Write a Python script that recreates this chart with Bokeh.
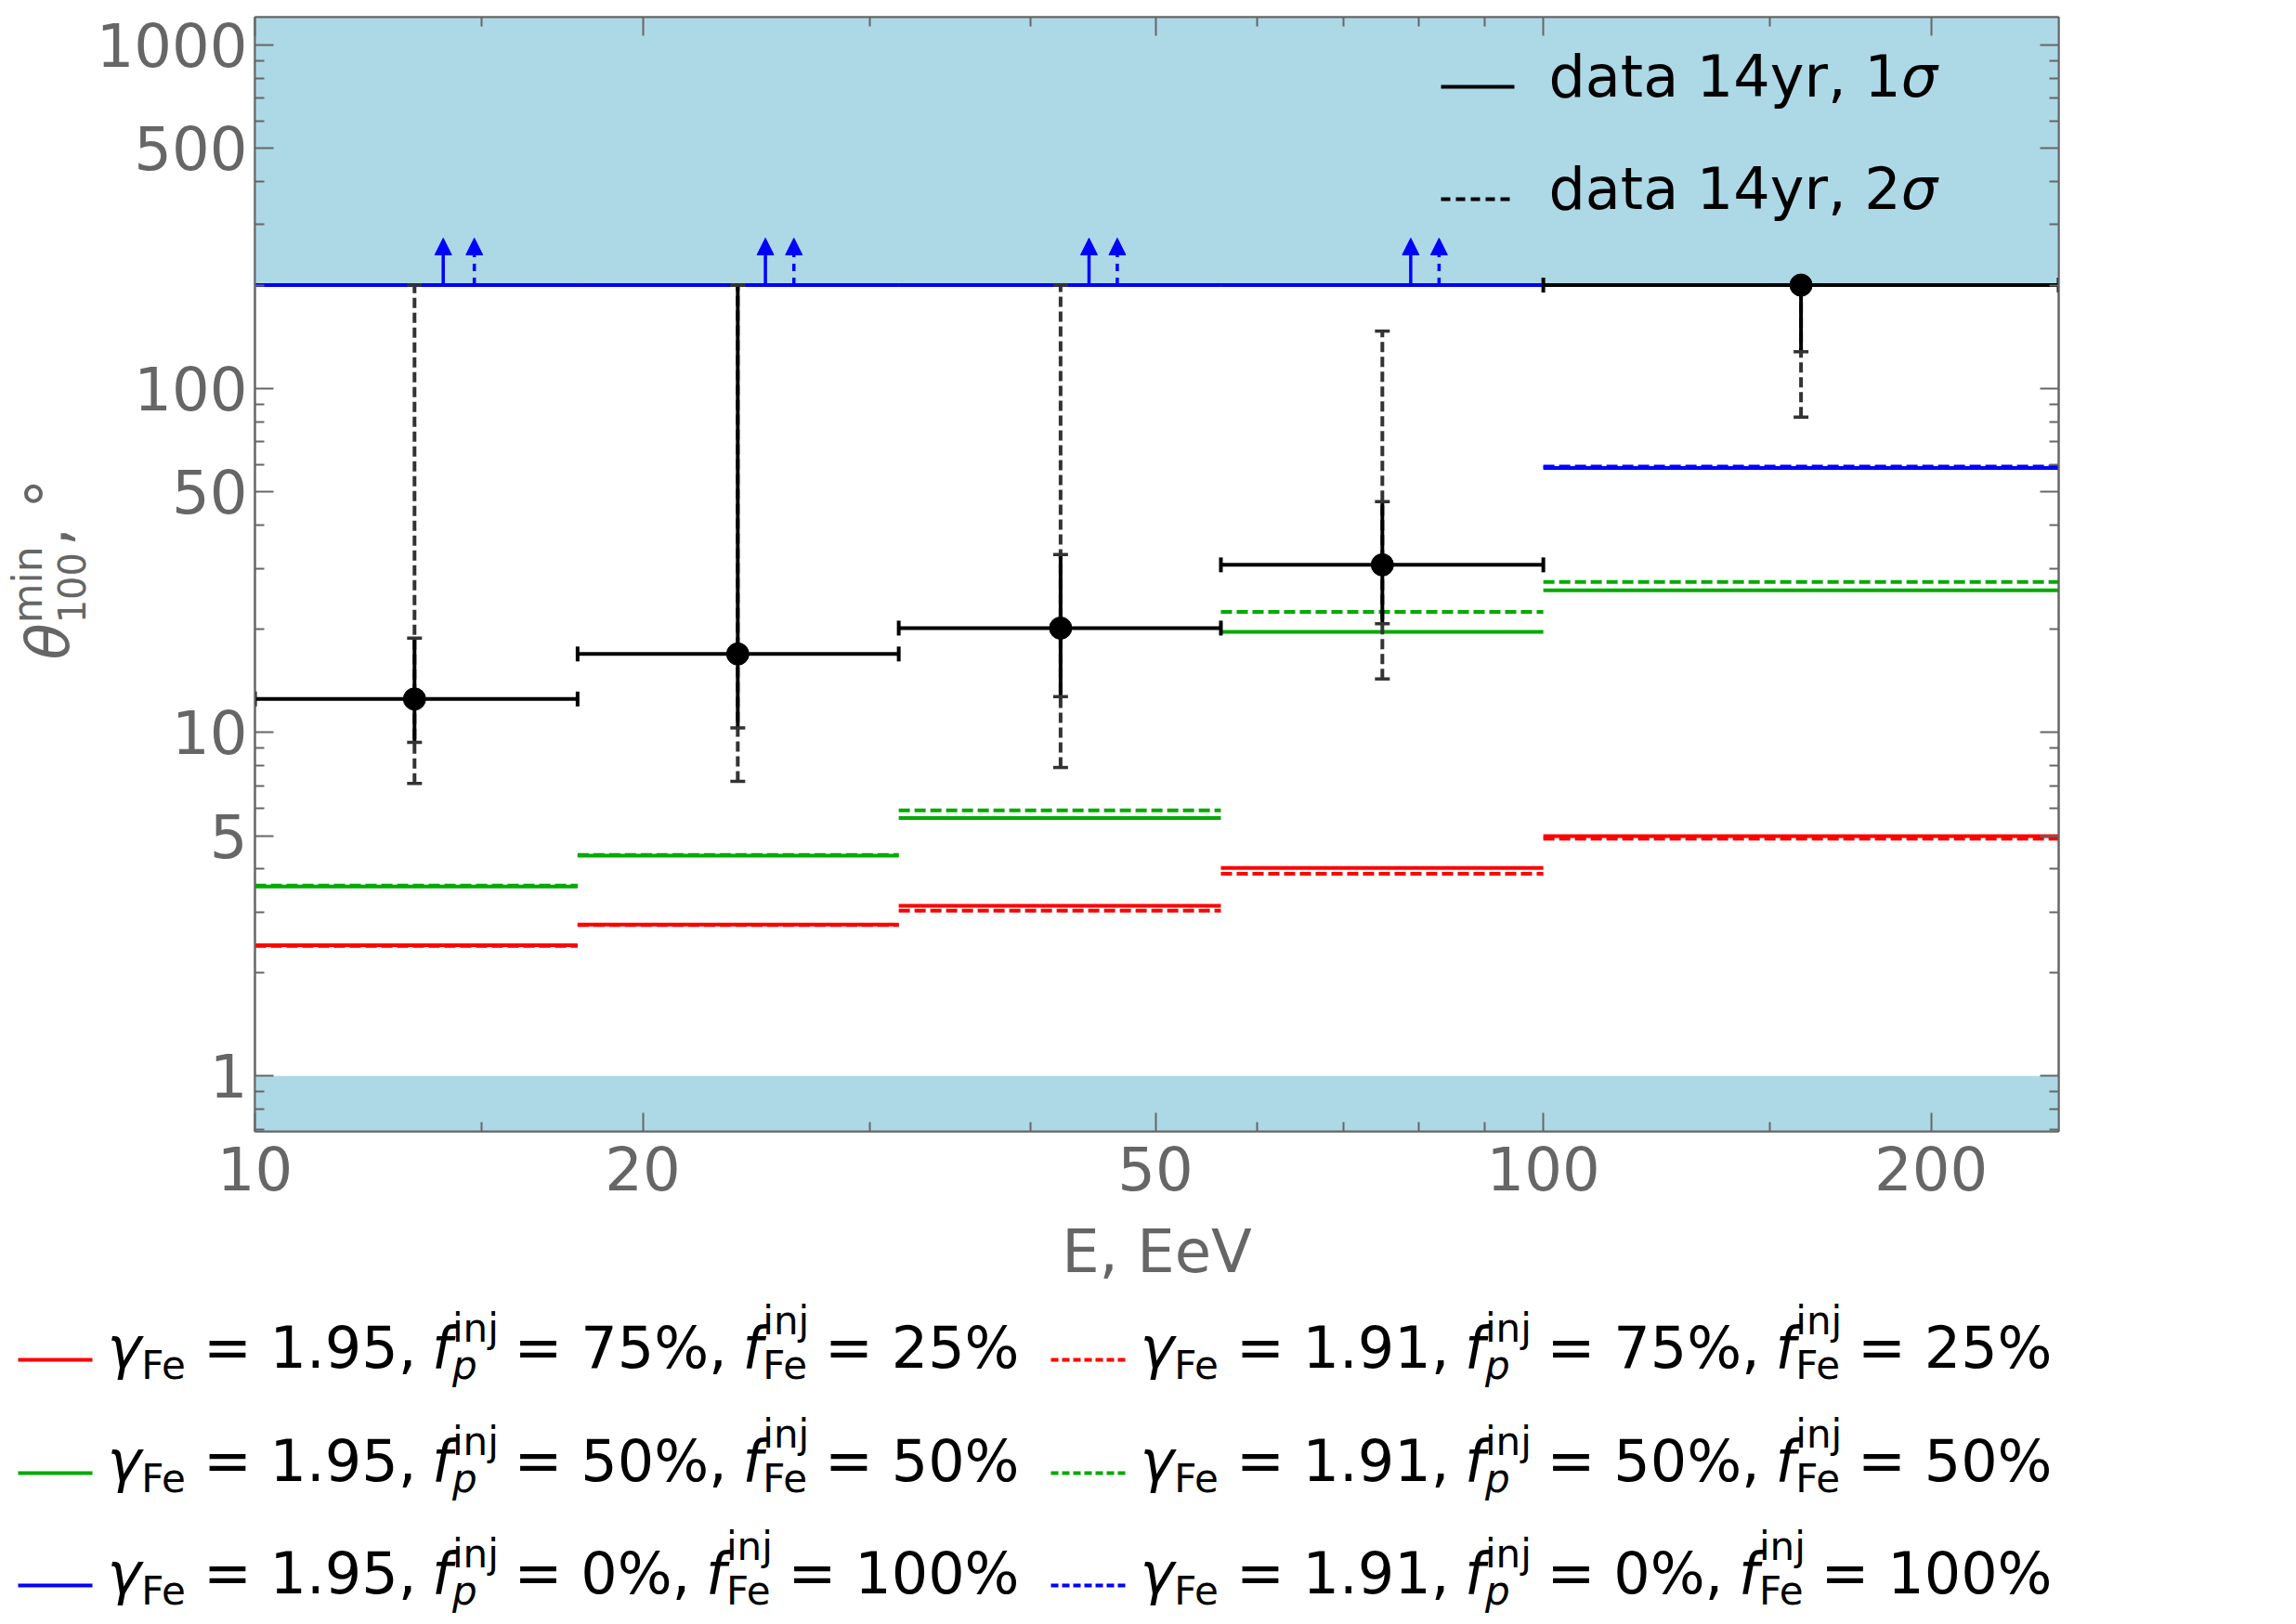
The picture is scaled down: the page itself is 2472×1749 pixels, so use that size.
import math
from bokeh.plotting import figure
from bokeh.models import (Range1d, LinearScale, LogAxis, FixedTicker, PrintfTickFormatter,
                          CustomJSTickFormatter, BoxAnnotation, Whisker, TeeHead, Arrow,
                          NormalHead, ColumnDataSource)
from bokeh.layouts import column, row
from bokeh.core.properties import value
from bokeh.embed import file_html
from bokeh.resources import INLINE

# ---------------- data ----------------
E_edges = [10.0, 17.8, 31.6, 56.2, 100.0, 251.2]
E_mid = [13.3, 23.7, 42.2, 75.0, 158.5]
theta_obs = [12.5, 16.9, 20.1, 30.7, 200.0]
theta_1s_lo = [9.35, 10.3, 12.7, 20.7, 128.0]
theta_1s_hi = [18.8, 200.0, 32.9, 46.9, 200.0]
theta_2s_lo = [7.1, 7.2, 7.9, 14.3, 82.6]
theta_2s_hi = [200.0, 200.0, 200.0, 147.0, 200.0]

red_195 = [2.40, 2.76, 3.13, 4.03, 4.99]
red_191 = [2.39, 2.75, 3.03, 3.88, 4.90]
green_195 = [3.56, 4.38, 5.63, 19.6, 25.9]
green_191 = [3.58, 4.40, 5.93, 22.4, 27.4]
blue_195 = [200.0, 200.0, 200.0, 200.0, 58.8]
blue_191 = [200.0, 200.0, 200.0, 200.0, 59.3]

arrow_E_195 = [14.0, 24.9, 44.4, 78.9]
arrow_E_191 = [14.8, 26.2, 46.7, 83.0]
arrow_from = [200.0, 200.0, 200.0, 200.0]
arrow_to = [274.0, 274.0, 274.0, 274.0]

theta_upper_limit = 200.0
theta_lower_limit = 1.0

x_ticks = [10, 20, 50, 100, 200]
x_minor = [15, 30, 40, 60, 70, 80, 90, 150]
y_ticks = [1, 5, 10, 50, 100, 500, 1000]
y_minor = [0.7, 0.8, 0.9, 2, 3, 4, 6, 7, 8, 9, 20, 30, 40, 60, 70, 80, 90,
           200, 300, 400, 600, 700, 800, 900]

legend_gamma = ["1.95", "1.91"]
legend_fp = ["75%", "50%", "0%"]
legend_ffe = ["25%", "50%", "100%"]
legend_data = ["data 14yr, 1", "data 14yr, 2"]

# ---------------- styles ----------------
FONT = "DejaVu Sans"
GREY = "#666666"
RED, GREEN, BLUE = "#FF0000", "#00AA00", "#0000FF"
BAND = "#ADD8E6"
DASH = "12 5"
MID = 0.346  # baseline -> box centre, in em

EM = {' ': 0.318, '0': 0.636, '1': 0.636, '2': 0.636, '3': 0.636, '4': 0.636, '5': 0.636,
      '6': 0.636, '7': 0.636, '8': 0.636, '9': 0.636, '=': 0.838, '%': 0.950, ',': 0.318,
      '.': 0.318, 'F': 0.575, 'e': 0.615, 'i': 0.278, 'n': 0.634, 'j': 0.278, 'p': 0.635,
      'f': 0.352, 'γ': 0.592, 'θ': 0.612, 'm': 0.974, '°': 0.5, 'σ': 0.634, 'd': 0.635,
      'a': 0.613, 't': 0.392, 'y': 0.592, 'r': 0.411}


def tw(s, fs):
    return sum(EM.get(c, 0.6) for c in s) * fs


FW, FH = 1942, 1200
YW = 100
LB, RB, TB, BB = 173, 241, 18, 180
H = TB + FH + BB
TOTAL_W = YW + LB + FW + RB

# ---------------- main figure ----------------
p = figure(x_axis_type="log", y_axis_type="log",
           x_range=Range1d(10, 251.2), y_range=Range1d(0.69, 1204),
           frame_width=FW, frame_height=FH,
           min_border_left=LB, min_border_right=RB, min_border_top=TB, min_border_bottom=BB,
           toolbar_location=None, output_backend="svg")
p.grid.visible = False
p.outline_line_color = GREY
p.outline_line_width = 2
p.background_fill_color = "white"
p.border_fill_color = "white"

xt = FixedTicker(ticks=x_ticks, minor_ticks=x_minor)
yt = FixedTicker(ticks=y_ticks, minor_ticks=y_minor)


def style_axis(ax, labels=True, standoff=8):
    ax.axis_line_color = GREY
    ax.axis_line_width = 2
    ax.major_tick_line_color = GREY
    ax.minor_tick_line_color = GREY
    ax.major_tick_line_width = 2
    ax.minor_tick_line_width = 2
    ax.major_tick_in = 20
    ax.major_tick_out = 0
    ax.minor_tick_in = 10
    ax.minor_tick_out = 0
    if labels:
        ax.major_label_text_font = FONT
        ax.major_label_text_font_size = "64px"
        ax.major_label_text_color = GREY
        ax.major_label_standoff = standoff
    else:
        ax.major_label_text_font_size = "0px"
        ax.major_label_standoff = 0


p.xaxis.ticker = xt
p.yaxis.ticker = yt
p.xaxis.formatter = PrintfTickFormatter(format="%d")
p.yaxis.formatter = PrintfTickFormatter(format="%d")
style_axis(p.xaxis[0], standoff=16)
style_axis(p.yaxis[0], standoff=8)
p.xaxis.axis_label = "E, EeV"
p.xaxis.axis_label_text_font = FONT
p.xaxis.axis_label_text_font_size = "64px"
p.xaxis.axis_label_text_font_style = "normal"
p.xaxis.axis_label_text_color = GREY
p.xaxis.axis_label_standoff = 26

blank = CustomJSTickFormatter(code="return ''")
top_ax = LogAxis(ticker=xt, formatter=blank)
style_axis(top_ax, labels=False)
p.add_layout(top_ax, "above")
right_ax = LogAxis(ticker=yt, formatter=blank)
style_axis(right_ax, labels=False)
p.add_layout(right_ax, "right")

# shaded excluded regions
p.add_layout(BoxAnnotation(bottom=theta_upper_limit, fill_color=BAND, fill_alpha=1.0,
                           line_color=None, level="underlay"))
p.add_layout(BoxAnnotation(top=theta_lower_limit, fill_color=BAND, fill_alpha=1.0,
                           line_color=None, level="underlay"))

# model predictions (step per energy bin)
x0s, x1s = E_edges[:-1], E_edges[1:]
for vals, col, dash in [(red_195, RED, "solid"), (red_191, RED, DASH),
                        (green_195, GREEN, "solid"), (green_191, GREEN, DASH),
                        (blue_195, BLUE, "solid"), (blue_191, BLUE, DASH)]:
    p.segment(x0=x0s, x1=x1s, y0=vals, y1=vals, line_color=col, line_width=4,
              line_dash=dash)

# lower-limit arrows
src_a1 = ColumnDataSource(dict(x=arrow_E_195, y0=arrow_from, y1=arrow_to))
src_a2 = ColumnDataSource(dict(x=arrow_E_191, y0=arrow_from, y1=arrow_to))
p.add_layout(Arrow(source=src_a1, x_start="x", y_start="y0", x_end="x", y_end="y1",
                   line_color=BLUE, line_width=3.5,
                   end=NormalHead(size=18, fill_color=BLUE, line_color=BLUE, line_width=1)))
p.add_layout(Arrow(source=src_a2, x_start="x", y_start="y0", x_end="x", y_end="y1",
                   line_color=BLUE, line_width=3.5, line_dash="8 7",
                   end=NormalHead(size=18, fill_color=BLUE, line_color=BLUE, line_width=1)))

# data with error bars
src = ColumnDataSource(dict(E=E_mid, th=theta_obs, lo1=theta_1s_lo, hi1=theta_1s_hi,
                            lo2=theta_2s_lo, hi2=theta_2s_hi,
                            left=E_edges[:-1], right=E_edges[1:]))
CAP = "#333333"
p.add_layout(Whisker(source=src, base="E", lower="lo2", upper="hi2", dimension="height",
                     line_color=CAP, line_width=4, line_dash="11 5", level="glyph",
                     upper_head=TeeHead(size=16, line_color=CAP, line_width=3.5),
                     lower_head=TeeHead(size=16, line_color=CAP, line_width=3.5)))
p.add_layout(Whisker(source=src, base="E", lower="lo1", upper="hi1", dimension="height",
                     line_color="black", line_width=4, level="glyph",
                     upper_head=TeeHead(size=16, line_color=CAP, line_width=3.5),
                     lower_head=TeeHead(size=16, line_color=CAP, line_width=3.5)))
p.add_layout(Whisker(source=src, base="th", lower="left", upper="right", dimension="width",
                     line_color="black", line_width=4, level="glyph",
                     upper_head=TeeHead(size=16, line_color="black", line_width=4),
                     lower_head=TeeHead(size=16, line_color="black", line_width=4)))
p.scatter(x="E", y="th", source=src, size=24, color="black", level="annotation")


def htext(fig, xs, ys, texts, fs, style="normal", color="black", **kw):
    """Left-aligned text; ys are baselines (converted to box centres)."""
    fig.text(x=xs, y=[y - MID * fs for y in ys], text=texts, text_font=value(FONT),
             text_font_size=value(f"{fs}px"), text_font_style=value(style),
             text_color=value(color), text_baseline=value("middle"),
             text_align=value("left"), **kw)


# in-frame legend (pixel coordinates relative to the frame)
p.extra_x_ranges = {"px": Range1d(0, FW)}
p.extra_y_ranges = {"px": Range1d(FH, 0)}
p.extra_x_scales = {"px": LinearScale()}
p.extra_y_scales = {"px": LinearScale()}
leg_line_y = [75, 196]
leg_base_y = [85, 206]
for i, dash in enumerate(["solid", "10 6"]):
    p.segment(x0=[1277], x1=[1356], y0=[leg_line_y[i]], y1=[leg_line_y[i]],
              line_color="black", line_width=4, line_dash=dash,
              x_range_name="px", y_range_name="px")
    tx = 1393
    htext(p, [tx], [leg_base_y[i]], [legend_data[i]], 62,
          x_range_name="px", y_range_name="px")
    htext(p, [tx + tw(legend_data[i], 62)], [leg_base_y[i]], ["σ"], 62, "italic",
          x_range_name="px", y_range_name="px")

# ---------------- y-axis label figure (rotated, centre-anchored pieces) ----------------
# its frame is aligned with the main frame, so its y range is given in page pixels
yl = figure(width=YW, height=H, x_range=Range1d(0, YW), y_range=Range1d(TB + FH, TB),
            x_axis_location=None, y_axis_location=None,
            min_border_left=0, min_border_right=0, min_border_top=TB, min_border_bottom=BB,
            toolbar_location=None, output_backend="svg")
yl.outline_line_color = None
yl.grid.visible = False


def ytext(base_x, start, t, fs, style="normal"):
    w = tw(t, fs)
    yl.text(x=[base_x - MID * fs], y=[start - w / 2], text=[t], angle=math.pi / 2,
            text_font=value(FONT), text_font_size=value(f"{fs}px"),
            text_font_style=value(style), text_color=value(GREY),
            text_baseline=value("middle"), text_align=value("center"))


bx = 74
s0 = 710
ytext(bx, s0, "θ", 64, "italic")
s1 = s0 - tw("θ", 64)
ytext(bx - 30, s1, "min", 44)
ytext(bx + 16, s1, "100", 40)
s2 = s1 - max(tw("min", 44), tw("100", 40))
ytext(bx, s2, ", °", 64)

# ---------------- bottom legend figure ----------------
LH = 350
lg = figure(width=TOTAL_W, height=LH, x_range=Range1d(0, TOTAL_W), y_range=Range1d(LH, 0),
            x_axis_location=None, y_axis_location=None, min_border=0,
            toolbar_location=None, output_backend="svg")
lg.outline_line_color = None
lg.grid.visible = False

pieces = []  # (x, baseline, text, fs, style)
MF, SF = 62, 42
SP = 0.27 * MF
col_x = [19, 1131]
row_y = [66, 188, 309]
colors = [RED, GREEN, BLUE]
for c in range(2):
    for r in range(3):
        lx = col_x[c]
        ly = row_y[r]
        lg.segment(x0=[lx], x1=[lx + 80], y0=[ly], y1=[ly], line_color=colors[r],
                   line_width=4, line_dash="solid" if c == 0 else "8 4")
        x = lx + 96
        yb = ly + 8.5
        pieces.append((x, yb, "γ", MF, "italic")); x += tw("γ", MF)
        pieces.append((x, yb + 12, "Fe", SF, "normal")); x += tw("Fe", SF) + SP
        t = "= " + legend_gamma[c] + ","
        pieces.append((x, yb, t, MF, "normal")); x += tw(t, MF) + SP
        pieces.append((x, yb, "f", MF, "italic")); x += tw("f", MF)
        pieces.append((x, yb - 28, "inj", SF, "normal"))
        pieces.append((x, yb + 12, "p", SF, "italic"))
        x += max(tw("inj", SF), tw("p", SF)) + SP
        t = "= " + legend_fp[r] + ","
        pieces.append((x, yb, t, MF, "normal")); x += tw(t, MF) + SP
        pieces.append((x, yb, "f", MF, "italic")); x += tw("f", MF)
        pieces.append((x, yb - 36, "inj", SF, "normal"))
        pieces.append((x, yb + 12, "Fe", SF, "normal"))
        x += max(tw("inj", SF), tw("Fe", SF)) + SP
        t = "= " + legend_ffe[r]
        pieces.append((x, yb, t, MF, "normal"))

groups = {}
for (x, y, t, fs, st) in pieces:
    groups.setdefault((fs, st), []).append((x, y, t))
for (fs, st), items in groups.items():
    htext(lg, [i[0] for i in items], [i[1] for i in items], [i[2] for i in items], fs, st)

layout = column(row(yl, p), lg)
open("out.html", "w").write(file_html(layout, INLINE))
